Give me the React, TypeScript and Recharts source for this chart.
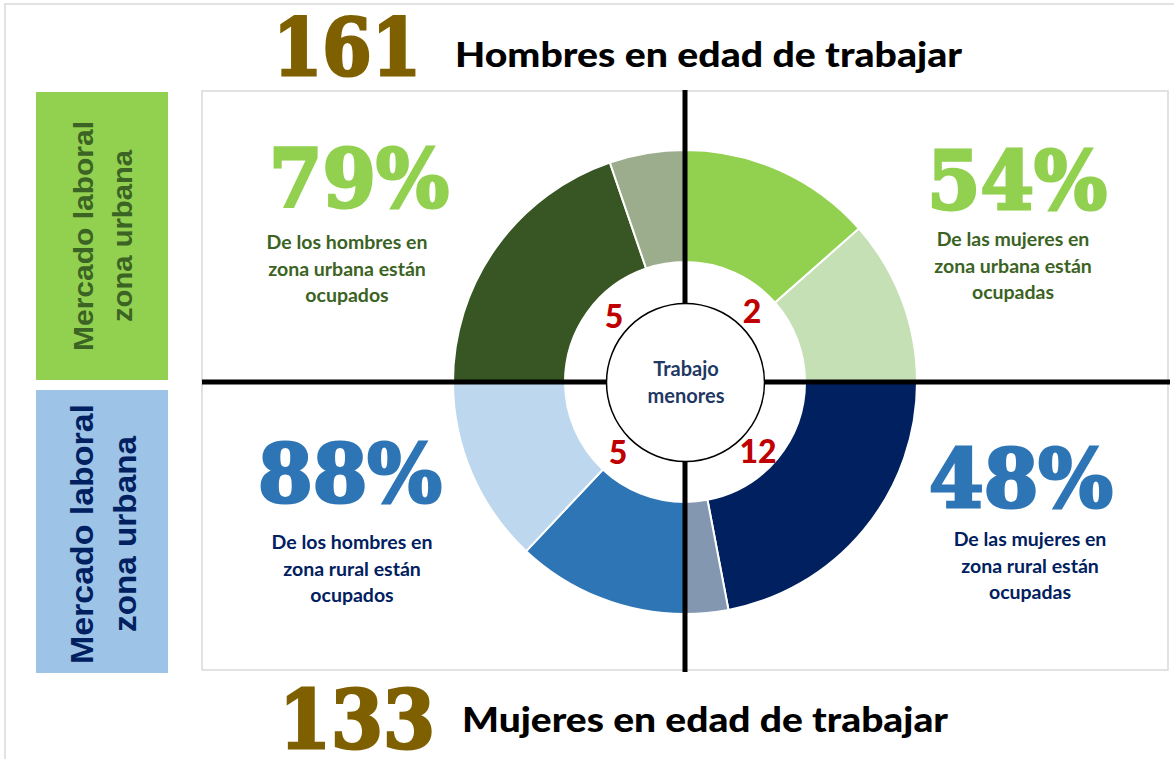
import { PieChart, Pie, Cell } from 'recharts';

// segments clockwise from 12 o'clock, each quadrant sums to 100
const segmentNames = [
    'Q1 ocupadas', 'Q1 resto',
    'Q2 ocupados', 'Q2 resto',
    'Q3 ocupadas', 'Q3 resto',
    'Q4 ocupados', 'Q4 resto',
];
const segmentValues = [54, 46, 88, 12, 48, 52, 79, 21];
const segmentColors = ['#92D050', '#C5E0B4', '#002060', '#8497B0', '#2E75B6', '#BDD7EE', '#375623', '#9CAD8E'];

const menTotal = '161';
const womenTotal = '133';
const percentLabels = ['79%', '54%', '88%', '48%'];
const childWork = ['5', '2', '5', '12'];

const chartData = segmentNames.map((name, i) => ({ name, value: segmentValues[i] }));

const CX = 685;
const CY = 382;

const bodyFont = 'Lato, "Open Sans", sans-serif';
const bigFont = '"DejaVu Serif", serif';
const armFont = '"Liberation Sans", Arial, sans-serif';

const Para = ({ x, y, lines, color }: { x: number; y: number; lines: string[]; color: string }) => (
    <text textAnchor="middle" fontFamily={bodyFont} fontWeight={700} fontSize={19.5} fill={color}>
        {lines.map((l, i) => (
            <tspan key={i} x={x} y={y + i * 26.5}>{l}</tspan>
        ))}
    </text>
);

const Big = ({ x, y, label, color, width }: { x: number; y: number; label: string; color: string; width: number }) => (
    <text
        x={x}
        y={y}
        textAnchor="middle"
        fontFamily={bigFont}
        fontWeight={700}
        fontSize={80}
        fill={color}
        stroke={color}
        strokeWidth={3}
        textLength={width}
        lengthAdjust="spacingAndGlyphs"
    >
        {label}
    </text>
);

export default function App() {
    return (
        <div style={{ position: 'absolute', left: 0, top: 0, width: 1174, height: 759, background: '#fff', overflow: 'hidden' }}>
            {/* background layer */}
            <svg width={1174} height={759} style={{ position: 'absolute', left: 0, top: 0 }}>
                <rect x={5} y={4} width={1300} height={900} fill="#fff" stroke="#d9d9d9" strokeWidth={1.5} />
                <rect x={202} y={91} width={966} height={579} fill="#fff" stroke="#d9d9d9" strokeWidth={1.5} />

                <rect x={36} y={92} width={132} height={288} fill="#92D050" />
                <rect x={36} y={390} width={132} height={283} fill="#9DC3E6" />
                <text transform="translate(93,236) rotate(-90)" textAnchor="middle" fontFamily={armFont} fontWeight={700} fontSize={27} fill="#3B6323">
                    <tspan x={0} y={0} textLength={230} lengthAdjust="spacingAndGlyphs">Mercado laboral</tspan>
                    <tspan x={0} y={39} textLength={172} lengthAdjust="spacingAndGlyphs">zona urbana</tspan>
                </text>
                <text transform="translate(93,534) rotate(-90)" textAnchor="middle" fontFamily={armFont} fontWeight={700} fontSize={31} fill="#002060">
                    <tspan x={0} y={0} textLength={260} lengthAdjust="spacingAndGlyphs">Mercado laboral</tspan>
                    <tspan x={0} y={43} textLength={196} lengthAdjust="spacingAndGlyphs">zona urbana</tspan>
                </text>

                {/* header / footer */}
                <text x={347} y={75} textAnchor="middle" fontFamily={bigFont} fontWeight={700} fontSize={78} fill="#7F6000" stroke="#7F6000" strokeWidth={3} textLength={148} lengthAdjust="spacingAndGlyphs">{menTotal}</text>
                <text x={455} y={67} fontFamily={bodyFont} fontWeight={900} fontSize={34} fill="#000" textLength={507} lengthAdjust="spacingAndGlyphs">Hombres en edad de trabajar</text>
                <text x={357} y={748} textAnchor="middle" fontFamily={bigFont} fontWeight={700} fontSize={80} fill="#7F6000" stroke="#7F6000" strokeWidth={3} textLength={156} lengthAdjust="spacingAndGlyphs">{womenTotal}</text>
                <text x={462} y={732} fontFamily={bodyFont} fontWeight={900} fontSize={34} fill="#000" textLength={486} lengthAdjust="spacingAndGlyphs">Mujeres en edad de trabajar</text>

                {/* quadrant texts */}
                <Big x={359} y={207} label={percentLabels[0]} color="#92D050" width={180} />
                <Para x={347} y={249} lines={['De los hombres en', 'zona urbana están', 'ocupados']} color="#3B6323" />
                <Big x={1017} y={209} label={percentLabels[1]} color="#92D050" width={180} />
                <Para x={1013} y={246} lines={['De las mujeres en', 'zona urbana están', 'ocupadas']} color="#3B6323" />
                <Big x={350} y={502} label={percentLabels[2]} color="#2E75B6" width={184} />
                <Para x={352} y={549} lines={['De los hombres en', 'zona rural  están', 'ocupados']} color="#002060" />
                <Big x={1021} y={507} label={percentLabels[3]} color="#2E75B6" width={184} />
                <Para x={1030} y={546} lines={['De las mujeres en', 'zona rural  están', 'ocupadas']} color="#002060" />
            </svg>

            {/* donut */}
            <div style={{ position: 'absolute', left: 0, top: 0 }}>
                <PieChart width={1174} height={759} margin={{ top: 0, right: 0, bottom: 0, left: 0 }}>
                    <Pie
                        data={chartData}
                        dataKey="value"
                        nameKey="name"
                        cx={CX}
                        cy={CY}
                        innerRadius={120}
                        outerRadius={232}
                        startAngle={90}
                        endAngle={-270}
                        stroke="#fff"
                        strokeWidth={2}
                        isAnimationActive={false}
                    >
                        {chartData.map((d, i) => (
                            <Cell key={d.name} fill={segmentColors[i]} />
                        ))}
                    </Pie>
                </PieChart>
            </div>

            {/* overlay */}
            <svg width={1174} height={759} style={{ position: 'absolute', left: 0, top: 0, pointerEvents: 'none' }}>
                <line x1={CX} y1={90} x2={CX} y2={672} stroke="#000" strokeWidth={5} />
                <line x1={202} y1={CY} x2={1170} y2={CY} stroke="#000" strokeWidth={5} />
                <circle cx={CX + 0.5} cy={CY + 0.5} r={79} fill="#fff" stroke="#000" strokeWidth={1.5} />
                <text textAnchor="middle" fontFamily={bodyFont} fontWeight={700} fontSize={20} fill="#1F3864">
                    <tspan x={CX + 1} y={376}>Trabajo</tspan>
                    <tspan x={CX + 1} y={403}>menores</tspan>
                </text>
                <g fontFamily={bodyFont} fontWeight={900} fontSize={32} fill="#C00000" textAnchor="middle">
                    <text x={614} y={328}>{childWork[0]}</text>
                    <text x={752} y={323}>{childWork[1]}</text>
                    <text x={618} y={464}>{childWork[2]}</text>
                    <text x={758} y={463}>{childWork[3]}</text>
                </g>
            </svg>
        </div>
    );
}
